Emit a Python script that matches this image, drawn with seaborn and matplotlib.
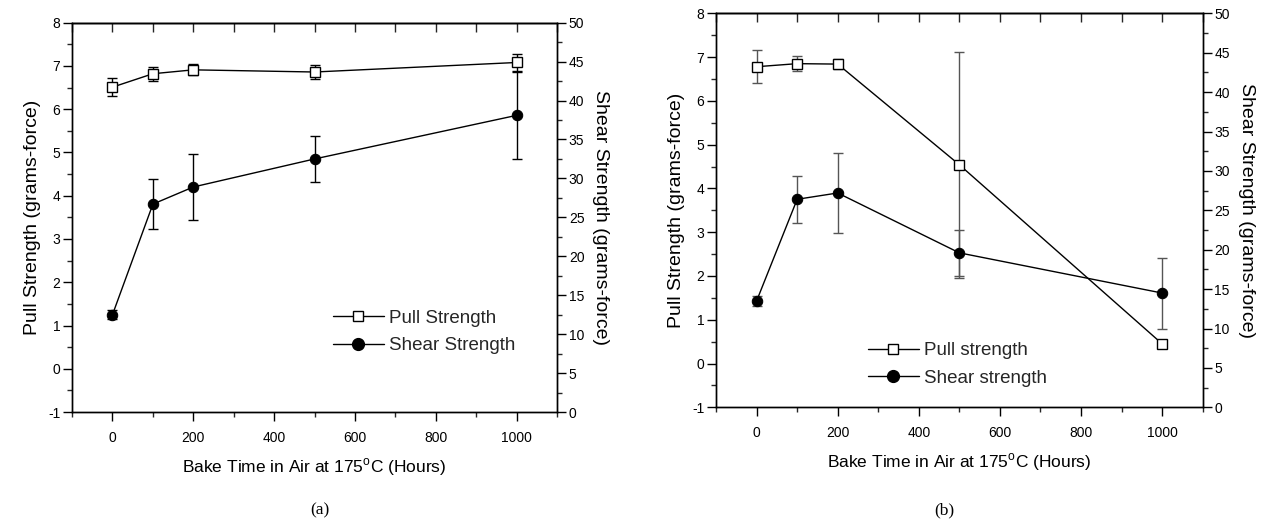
import numpy as np
import pandas as pd
import matplotlib
matplotlib.use("Agg")
import matplotlib.pyplot as plt
from matplotlib.ticker import MultipleLocator
from matplotlib.lines import Line2D
import seaborn as sns

# ---- data ----
hours = [0, 100, 200, 500, 1000]

pull_a = [6.51, 6.82, 6.91, 6.86, 7.08]
pull_a_err = [0.20, 0.16, 0.13, 0.17, 0.20]
shear_a = [12.5, 26.7, 28.9, 32.5, 38.1]
shear_a_err = [0.6, 3.25, 4.2, 3.0, 5.6]

pull_b = [6.78, 6.85, 6.84, 4.54, 0.45]
pull_b_err = [0.38, 0.165, 0.12, 2.58, 0.0]
shear_b = [13.5, 26.4, 27.2, 19.6, 14.5]
shear_b_err = [0.65, 3.0, 5.05, 2.9, 4.5]

legend_a = ["Pull Strength", "Shear Strength"]
legend_b = ["Pull strength", "Shear strength"]
xlabel = r"Bake Time in Air at 175$^{\mathrm{o}}$C (Hours)"
ylabel_left = "Pull Strength (grams-force)"
ylabel_right = "Shear Strength (grams-force)"

sns.set_theme(style="white")
plt.rcParams["font.family"] = ["Liberation Sans", "DejaVu Sans"]
plt.rcParams["mathtext.fontset"] = "custom"
plt.rcParams["mathtext.rm"] = "Liberation Sans"
plt.rcParams["axes.unicode_minus"] = False
plt.rcParams["axes.edgecolor"] = "black"
plt.rcParams["axes.linewidth"] = 1.0

fig = plt.figure(figsize=(12.62, 5.24), dpi=100)


def make_panel(rect, pull, pull_err, shear, shear_err, labels, leg_anchor, err_color):
    ax = fig.add_axes(rect)
    ax2 = ax.twinx()
    df = pd.DataFrame({"hours": hours, "pull": pull, "shear": shear})

    ax.errorbar(hours, pull, yerr=pull_err, fmt="none", ecolor=err_color,
                elinewidth=1.0, capsize=3.5, capthick=1.0, zorder=2)
    sns.lineplot(data=df, x="hours", y="pull", ax=ax, color="black", lw=1.0,
                 marker="s", markersize=6.5, markerfacecolor="white",
                 markeredgecolor="black", markeredgewidth=1.0, zorder=3)
    ax2.errorbar(hours, shear, yerr=shear_err, fmt="none", ecolor=err_color,
                 elinewidth=1.0, capsize=3.5, capthick=1.0, zorder=2)
    sns.lineplot(data=df, x="hours", y="shear", ax=ax2, color="black", lw=1.0,
                 marker="o", markersize=7.5, markerfacecolor="black",
                 markeredgecolor="black", zorder=3)

    ax.set_xlim(-100, 1100)
    ax.set_ylim(-1, 8)
    ax2.set_ylim(0, 50)
    ax.xaxis.set_major_locator(MultipleLocator(200))
    ax.xaxis.set_minor_locator(MultipleLocator(100))
    ax.yaxis.set_major_locator(MultipleLocator(1))
    ax.yaxis.set_minor_locator(MultipleLocator(0.5))
    ax2.yaxis.set_major_locator(MultipleLocator(5))
    ax2.yaxis.set_minor_locator(MultipleLocator(2.5))

    for a in (ax, ax2):
        a.tick_params(which="major", direction="out", length=6.5, width=1.0,
                      labelsize=10, colors="black", pad=2)
        a.tick_params(which="minor", direction="out", length=3.5, width=1.0)
        for s in a.spines.values():
            s.set_color("black")
            s.set_linewidth(1.0)
    ax.tick_params(axis="x", which="major", pad=7)
    ax.tick_params(axis="y", which="both", left=True, right=False)
    ax.tick_params(axis="x", which="both", bottom=True, top=False)
    ax2.tick_params(axis="y", which="both", right=True, left=False)

    top = ax.secondary_xaxis("top")
    top.xaxis.set_major_locator(MultipleLocator(200))
    top.xaxis.set_minor_locator(MultipleLocator(100))
    top.tick_params(which="major", direction="in", length=6.5, width=1.0, labeltop=False)
    top.tick_params(which="minor", direction="in", length=6.5, width=1.0)
    top.spines["top"].set_linewidth(1.0)

    ax.set_xlabel(xlabel, fontsize=12.5, color="black", labelpad=8)
    ax.set_ylabel(ylabel_left, fontsize=14, color="black", labelpad=5)
    ax2.set_ylabel(ylabel_right, fontsize=14, color="black", rotation=270, labelpad=18)

    handles = [
        Line2D([], [], color="black", lw=1.0, marker="s", markersize=6.5,
               markerfacecolor="white", markeredgecolor="black"),
        Line2D([], [], color="black", lw=1.0, marker="o", markersize=8.5,
               markerfacecolor="black", markeredgecolor="black"),
    ]
    ax2.legend(handles, labels, loc="center left", bbox_to_anchor=leg_anchor,
               frameon=False, fontsize=13.5, handlelength=2.7, handletextpad=0.3,
               labelspacing=0.55, borderaxespad=0, borderpad=0)
    return ax


ax_a = make_panel([0.0571, 0.2137, 0.3843, 0.7430], pull_a, pull_a_err, shear_a, shear_a_err,
                  legend_a, (0.538, 0.205), "black")
ax_b = make_panel([0.5674, 0.2227, 0.3856, 0.7519], pull_b, pull_b_err, shear_b, shear_b_err,
                  legend_b, (0.312, 0.109), "#555555")

fig.text(320 / 1262, 1 - 510 / 524, "(a)", ha="center", va="center", fontsize=12.5,
         family=["Liberation Serif", "DejaVu Serif"], color="black")
fig.text(944 / 1262, 1 - 510 / 524, "(b)", ha="center", va="center", fontsize=12.5,
         family=["Liberation Serif", "DejaVu Serif"], color="black")

fig.savefig("out.png", dpi=100, facecolor="white")
